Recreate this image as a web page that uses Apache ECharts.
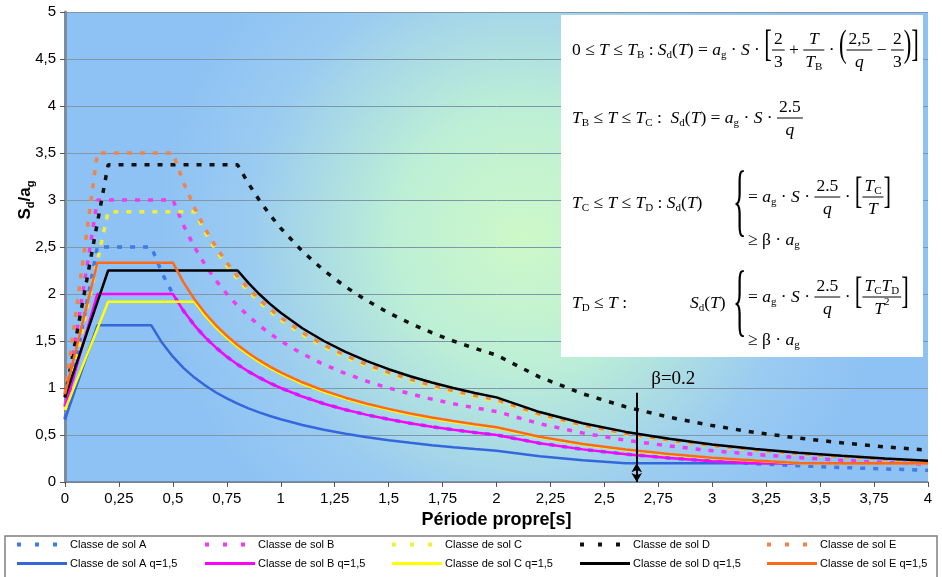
<!DOCTYPE html>
<html>
<head>
<meta charset="utf-8">
<script src="https://cdn.jsdelivr.net/npm/echarts@6.0.0/dist/echarts.min.js"></script>
<style>
html, body { margin: 0; padding: 0; background: #fff; }
#chart { width: 942px; height: 577px; }
</style>
</head>
<body>
<div id="chart"></div>
<script>
// période T [s]
var periods = [0, 0.15, 0.2, 0.25, 0.3, 0.35, 0.4, 0.45, 0.5, 0.55,
    0.6, 0.65, 0.7, 0.75, 0.8, 0.85, 0.9, 0.95, 1,
    1.1, 1.2, 1.3, 1.4, 1.5, 1.6, 1.7, 1.8, 1.9, 2,
    2.2, 2.4, 2.6, 2.8, 3, 3.2, 3.4, 3.6, 3.8, 4];

// Sd/ag, spectres en pointillés (q=1)
var solA = [0.667, 2.5, 2.5, 2.5, 2.5, 2.5, 2.5, 2.222, 2.0, 1.818,
    1.667, 1.538, 1.429, 1.333, 1.25, 1.176, 1.111, 1.053, 1.0,
    0.909, 0.833, 0.769, 0.714, 0.667, 0.625, 0.588, 0.556, 0.526, 0.5,
    0.413, 0.347, 0.296, 0.255, 0.222, 0.195, 0.173, 0.154, 0.139, 0.125];
var solB = [0.8, 3.0, 3.0, 3.0, 3.0, 3.0, 3.0, 3.0, 3.0, 2.727,
    2.5, 2.308, 2.143, 2.0, 1.875, 1.765, 1.667, 1.579, 1.5,
    1.364, 1.25, 1.154, 1.071, 1.0, 0.938, 0.882, 0.833, 0.789, 0.75,
    0.620, 0.521, 0.444, 0.383, 0.333, 0.293, 0.260, 0.231, 0.208, 0.188];
var solC = [0.767, 2.348, 2.875, 2.875, 2.875, 2.875, 2.875, 2.875, 2.875, 2.875,
    2.875, 2.654, 2.464, 2.3, 2.156, 2.029, 1.917, 1.816, 1.725,
    1.568, 1.438, 1.327, 1.232, 1.15, 1.078, 1.015, 0.958, 0.908, 0.863,
    0.713, 0.599, 0.510, 0.440, 0.383, 0.337, 0.298, 0.266, 0.239, 0.216];
var solD = [0.9, 2.756, 3.375, 3.375, 3.375, 3.375, 3.375, 3.375, 3.375, 3.375,
    3.375, 3.375, 3.375, 3.375, 3.375, 3.176, 3.0, 2.842, 2.7,
    2.455, 2.25, 2.077, 1.929, 1.8, 1.688, 1.588, 1.5, 1.421, 1.35,
    1.116, 0.938, 0.799, 0.689, 0.6, 0.527, 0.467, 0.417, 0.374, 0.338];
var solE = [0.933, 3.5, 3.5, 3.5, 3.5, 3.5, 3.5, 3.5, 3.5, 3.182,
    2.917, 2.692, 2.5, 2.333, 2.188, 2.059, 1.944, 1.842, 1.75,
    1.591, 1.458, 1.346, 1.25, 1.167, 1.094, 1.029, 0.972, 0.921, 0.875,
    0.723, 0.608, 0.518, 0.446, 0.389, 0.342, 0.303, 0.270, 0.242, 0.219];

// Sd/ag, q=1,5
var solAq = [0.667, 1.667, 1.667, 1.667, 1.667, 1.667, 1.667, 1.481, 1.333, 1.212,
    1.111, 1.026, 0.952, 0.889, 0.833, 0.784, 0.741, 0.702, 0.667,
    0.606, 0.556, 0.513, 0.476, 0.444, 0.417, 0.392, 0.370, 0.351, 0.333,
    0.275, 0.231, 0.2, 0.2, 0.2, 0.2, 0.2, 0.2, 0.2, 0.2];
var solBq = [0.8, 2.0, 2.0, 2.0, 2.0, 2.0, 2.0, 2.0, 2.0, 1.818,
    1.667, 1.538, 1.429, 1.333, 1.25, 1.176, 1.111, 1.053, 1.0,
    0.909, 0.833, 0.769, 0.714, 0.667, 0.625, 0.588, 0.556, 0.526, 0.5,
    0.413, 0.347, 0.296, 0.255, 0.222, 0.2, 0.2, 0.2, 0.2, 0.2];
var solCq = [0.767, 1.629, 1.917, 1.917, 1.917, 1.917, 1.917, 1.917, 1.917, 1.917,
    1.917, 1.769, 1.643, 1.533, 1.438, 1.353, 1.278, 1.211, 1.15,
    1.045, 0.958, 0.885, 0.821, 0.767, 0.719, 0.676, 0.639, 0.605, 0.575,
    0.475, 0.399, 0.340, 0.293, 0.256, 0.225, 0.2, 0.2, 0.2, 0.2];
var solDq = [0.9, 1.913, 2.25, 2.25, 2.25, 2.25, 2.25, 2.25, 2.25, 2.25,
    2.25, 2.25, 2.25, 2.25, 2.25, 2.118, 2.0, 1.895, 1.8,
    1.636, 1.5, 1.385, 1.286, 1.2, 1.125, 1.059, 1.0, 0.947, 0.9,
    0.744, 0.625, 0.533, 0.459, 0.4, 0.352, 0.311, 0.278, 0.249, 0.225];
var solEq = [0.933, 2.333, 2.333, 2.333, 2.333, 2.333, 2.333, 2.333, 2.333, 2.121,
    1.944, 1.795, 1.667, 1.556, 1.458, 1.373, 1.296, 1.228, 1.167,
    1.061, 0.972, 0.897, 0.833, 0.778, 0.729, 0.686, 0.648, 0.614, 0.583,
    0.482, 0.405, 0.345, 0.298, 0.259, 0.228, 0.202, 0.2, 0.2, 0.2];

var classes = ['A', 'B', 'C', 'D', 'E'];
var elastic = [solA, solB, solC, solD, solE];
var design = [solAq, solBq, solCq, solDq, solEq];
var betaT = 2.65, beta = 0.2, betaTop = 0.95;

var dashColors = ['#3f7be8', '#f03cf0', '#f0f03a', '#111111', '#f0854a'];
var lineColors = ['#3567dc', '#ff00ff', '#ffff00', '#000000', '#ff6a1a'];

function pairs(vals) {
    return periods.map(function (t, i) { return [t, vals[i]]; });
}
function comma(v) { return String(v).replace('.', ','); }

var series = [];
classes.forEach(function (c, k) {
    series.push({
        name: 'Classe de sol ' + c, type: 'line', data: pairs(elastic[k]),
        symbol: 'none', silent: true,
        lineStyle: { color: dashColors[k], width: 3.5, type: [5, 8] },
        itemStyle: { color: dashColors[k] }
    });
});
classes.forEach(function (c, k) {
    series.push({
        name: 'Classe de sol ' + c + ' q=1,5', type: 'line', data: pairs(design[k]),
        symbol: 'none', silent: true,
        lineStyle: { color: lineColors[k], width: 2.5, type: 'solid' },
        itemStyle: { color: lineColors[k] }
    });
});
series.push({
    name: 'beta', type: 'line', data: [], silent: true,
    markLine: {
        silent: true, symbolSize: [8, 9], label: { show: false },
        lineStyle: { color: '#000', width: 2, type: 'solid' },
        emphasis: { disabled: true },
        data: [
            [{ coord: [betaT, 0], symbol: 'arrow' }, { coord: [betaT, beta], symbol: 'arrow' }],
            [{ coord: [betaT, beta], symbol: 'none' }, { coord: [betaT, betaTop], symbol: 'none' }]
        ]
    },
    markPoint: {
        silent: true, symbol: 'circle', symbolSize: 1,
        itemStyle: { color: 'rgba(0,0,0,0)' },
        label: {
            show: true, position: 'right', offset: [9, -14], formatter: 'β=0.2',
            fontFamily: '"Liberation Serif", serif', fontSize: 19, color: '#000'
        },
        data: [{ coord: [betaT, betaTop] }]
    }
});

// legends : 5 colonnes de 2 lignes
var legendX = [15, 203, 390, 578, 765];
var legends = classes.map(function (c, k) {
    return {
        data: [
            { name: 'Classe de sol ' + c, lineStyle: { type: [4, 14], width: 4 } },
            { name: 'Classe de sol ' + c + ' q=1,5', lineStyle: { width: 3 } }
        ],
        orient: 'vertical', left: legendX[k], top: 539, padding: 0,
        itemGap: 8, itemWidth: 50, itemHeight: 10, selectedMode: false, z: 10,
        itemStyle: { opacity: 0 },
        textStyle: { fontSize: 11, color: '#000', fontFamily: '"Liberation Sans", Arial, sans-serif', padding: [0, 0, 0, -2] }
    };
});

// --- formules (texte mis en page à la main) ---
var FF = '"Liberation Serif", "Times New Roman", serif';
var mctx = document.createElement('canvas').getContext('2d');
var sty = {
    n: { size: 17.5, it: false, dy: 0 },
    i: { size: 17.5, it: true, dy: 0 },
    s: { size: 11, it: false, dy: 5 },
    p: { size: 11, it: false, dy: -7 },
    b: { size: 38, it: false, dy: -4, sx: 0.6 },
    c: { size: 80, it: false, dy: -8, sx: 0.35 }
};
function fnt(s) { return (s.it ? 'italic ' : '') + s.size + 'px ' + FF; }
var formulaEls = [];
function put(items, x, y, draw) {
    for (var k = 0; k < items.length; k++) {
        var it = items[k];
        if (it[0] === 'f') {
            var wn = put(it[1], 0, 0, false), wd = put(it[2], 0, 0, false);
            var fw = Math.max(wn, wd) + 4;
            if (draw) {
                put(it[1], x + (fw - wn) / 2, y - 11, true);
                put(it[2], x + (fw - wd) / 2, y + 12, true);
                formulaEls.push({ type: 'line', z: 101, shape: { x1: x, y1: y, x2: x + fw, y2: y },
                    style: { stroke: '#000', lineWidth: 1 } });
            }
            x += fw;
        } else {
            var s = sty[it[0]];
            mctx.font = fnt(s);
            var tw = mctx.measureText(it[1]).width * (s.sx || 1);
            if (draw) {
                formulaEls.push({ type: 'text', z: 101, x: x, y: y + s.dy, scaleX: s.sx || 1,
                    style: { text: it[1], font: fnt(s), fill: '#000', align: 'left', verticalAlign: 'middle',
                        textAlign: 'left', textVerticalAlign: 'middle' } });
            }
            x += tw;
        }
    }
    return x;
}
var Sd = [['i', 'S'], ['s', 'd'], ['n', '('], ['i', 'T'], ['n', ')']];
var agS = [['i', 'a'], ['s', 'g'], ['n', ' · '], ['i', 'S'], ['n', ' · ']];
var f25q = ['f', [['n', '2.5']], [['i', 'q']]];
var f23 = ['f', [['n', '2']], [['n', '3']]];
var geq = [['n', '≥ β · '], ['i', 'a'], ['s', 'g']];

put([['n', '0 ≤ '], ['i', 'T'], ['n', ' ≤ '], ['i', 'T'], ['s', 'B'], ['n', ' : ']]
    .concat(Sd, [['n', ' = ']], agS,
    [['b', '['], f23, ['n', ' + '], ['f', [['i', 'T']], [['i', 'T'], ['s', 'B']]], ['n', ' · '],
     ['b', '('], ['f', [['n', '2,5']], [['i', 'q']]], ['n', ' − '], f23, ['b', ')'], ['b', ']']]), 572, 50, true);

put([['i', 'T'], ['s', 'B'], ['n', ' ≤ '], ['i', 'T'], ['n', ' ≤ '], ['i', 'T'], ['s', 'C'], ['n', ' :  ']]
    .concat(Sd, [['n', ' = ']], agS, [f25q]), 572, 118, true);

put([['i', 'T'], ['s', 'C'], ['n', ' ≤ '], ['i', 'T'], ['n', ' ≤ '], ['i', 'T'], ['s', 'D'], ['n', ' : ']]
    .concat(Sd), 572, 203, true);
put([['c', '{']], 733, 213, true);
put([['n', '= ']].concat(agS, [f25q, ['n', ' · '], ['b', '['],
    ['f', [['i', 'T'], ['s', 'C']], [['i', 'T']]], ['b', ']']]), 748, 197, true);
put(geq, 748, 240, true);

put([['i', 'T'], ['s', 'D'], ['n', ' ≤ '], ['i', 'T'], ['n', ' :']], 572, 303, true);
put(Sd, 690, 303, true);
put([['c', '{']], 733, 313, true);
put([['n', '= ']].concat(agS, [f25q, ['n', ' · '], ['b', '['],
    ['f', [['i', 'T'], ['s', 'C'], ['i', 'T'], ['s', 'D']], [['i', 'T'], ['p', '2']]], ['b', ']']]), 748, 297, true);
put(geq, 748, 340, true);

var graphics = [
    { type: 'rect', z: 100, shape: { x: 561, y: 15, width: 362, height: 342 }, style: { fill: '#fff' } },
    { type: 'rect', z: 5, shape: { x: 5, y: 536, width: 932, height: 45 },
      style: { fill: '#fff', stroke: '#808080', lineWidth: 1.5 } },
    { type: 'text', z: 10, x: 25, y: 200, rotation: Math.PI / 2,
      style: {
          text: '{m|S}{s|d}{m|/a}{s|g}', align: 'center', verticalAlign: 'middle',
          rich: {
              m: { fontSize: 17, fontWeight: 'bold', fontFamily: '"Liberation Sans", Arial', lineHeight: 22, color: '#000' },
              s: { fontSize: 11, fontWeight: 'bold', fontFamily: '"Liberation Sans", Arial', lineHeight: 11,
                   verticalAlign: 'bottom', color: '#000' }
          }
      } }
].concat(formulaEls);

var chart = echarts.init(document.getElementById('chart'), null, { renderer: 'canvas' });
var option = {
    animation: false,
    backgroundColor: '#fff',
    grid: {
        left: 65, right: 14, top: 12, bottom: 95, show: true, borderWidth: 0,
        outerBoundsMode: 'none',
        backgroundColor: {
            type: 'radial', x: 0.53, y: 0.48, r: 0.78,
            colorStops: [
                { offset: 0, color: '#cdf8c8' },
                { offset: 0.35, color: '#bdefd6' },
                { offset: 0.75, color: '#9acbf1' },
                { offset: 1, color: '#8ec2f4' }
            ]
        }
    },
    legend: legends,
    xAxis: {
        type: 'value', min: 0, max: 4, interval: 0.25,
        name: 'Période propre[s]', nameLocation: 'middle', nameGap: 26,
        nameTextStyle: { fontSize: 18, fontWeight: 'bold', color: '#000', fontFamily: '"Liberation Sans", Arial' },
        axisLine: { show: true, onZero: false, lineStyle: { color: '#6f7f8f', width: 1.5 } },
        axisTick: { show: true, length: 5, lineStyle: { color: '#555' } },
        axisLabel: { formatter: comma, fontSize: 15, color: '#000', margin: 9, fontFamily: '"Liberation Sans", Arial' },
        splitLine: { show: false }
    },
    yAxis: {
        type: 'value', min: 0, max: 5, interval: 0.5,
        axisLine: { show: true, lineStyle: { color: '#7d8d9d', width: 3 } },
        axisTick: { show: true, length: 5, lineStyle: { color: '#555' } },
        axisLabel: { formatter: comma, fontSize: 15, color: '#000', margin: 9, fontFamily: '"Liberation Sans", Arial' },
        splitLine: { show: true, lineStyle: { color: '#7f97a8', width: 1 } }
    },
    graphic: { elements: graphics },
    series: series
};
chart.setOption(option);
</script>
</body>
</html>
